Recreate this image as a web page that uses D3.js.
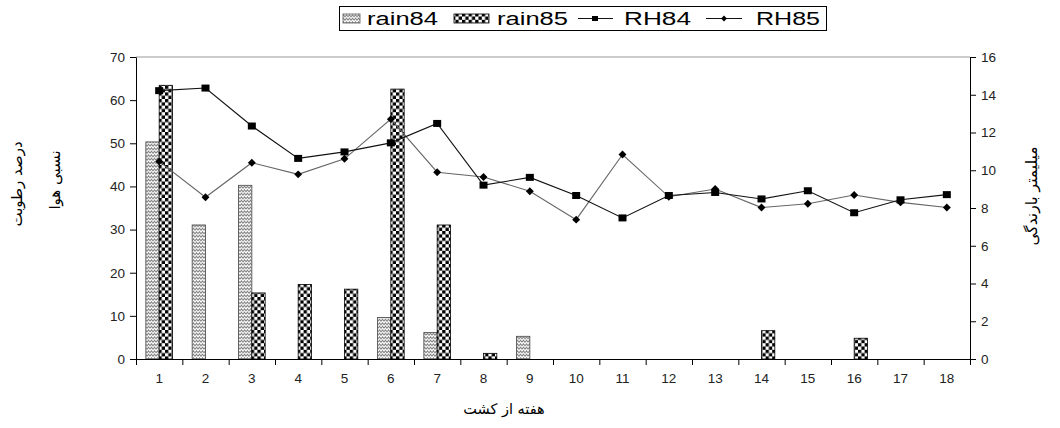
<!DOCTYPE html>
<html>
<head>
<meta charset="utf-8">
<script src="https://cdn.jsdelivr.net/npm/d3@7"></script>
<style>
  body { margin: 0; background: #fff; }
  svg { display: block; }
  .tick text { font-family: "Liberation Sans", Arial, sans-serif; font-size: 13.5px; fill: #222; }
</style>
</head>
<body>
<div id="chart"></div>
<script>
// weeks after planting
const weeks = ["1","2","3","4","5","6","7","8","9","10","11","12","13","14","15","16","17","18"];
// rainfall, mm (right axis)
const rain84 = [11.5, 7.1, 9.2, 0, 0, 2.2, 1.4, 0, 1.2, 0, 0, 0, 0, 0, 0, 0, 0, 0];
const rain85 = [14.5, 0, 3.5, 3.95, 3.7, 14.3, 7.1, 0.3, 0, 0, 0, 0, 0, 1.5, 0, 1.1, 0, 0];
// relative humidity, % (left axis)
const rh84 = [62.2, 62.8, 54.0, 46.5, 48.0, 50.1, 54.6, 40.3, 42.1, 37.9, 32.7, 37.9, 38.6, 37.1, 39.0, 33.9, 36.9, 38.1];
const rh85 = [45.8, 37.5, 45.5, 42.8, 46.4, 55.6, 43.3, 42.2, 38.9, 32.3, 47.4, 37.6, 39.4, 35.1, 36.0, 38.0, 36.3, 35.1];
const leftTicks = [0, 10, 20, 30, 40, 50, 60, 70];
const rightTicks = [0, 2, 4, 6, 8, 10, 12, 14, 16];

const w = 1060, h = 428;
const pLeft = 136, pRight = 970, pTop = 57, pBottom = 359;

const svg = d3.select("#chart").append("svg")
    .attr("width", w)
    .attr("height", h);

const defs = svg.append("defs");
// wavy pattern for rain84
const wave = defs.append("pattern")
    .attr("id", "wave")
    .attr("patternUnits", "userSpaceOnUse")
    .attr("width", 6).attr("height", 3.5);
wave.append("rect").attr("width", 6).attr("height", 3.5).attr("fill", "#fff");
wave.append("path")
    .attr("d", "M0,2.8 L1.5,0.8 L3,2.8 L4.5,0.8 L6,2.8")
    .attr("fill", "none").attr("stroke", "#6e6e6e").attr("stroke-width", 0.9);
// checker pattern for rain85
const chk = defs.append("pattern")
    .attr("id", "checker")
    .attr("patternUnits", "userSpaceOnUse")
    .attr("width", 6.6).attr("height", 6.6);
chk.append("rect").attr("width", 6.6).attr("height", 6.6).attr("fill", "#fff");
chk.append("rect").attr("width", 3.3).attr("height", 3.3).attr("fill", "#000");
chk.append("rect").attr("x", 3.3).attr("y", 3.3).attr("width", 3.3).attr("height", 3.3).attr("fill", "#000");

const x = d3.scaleBand().domain(weeks).range([pLeft, pRight]);
const groupW = x.bandwidth() * 0.575;
const xSub = d3.scaleBand().domain(["rain84", "rain85"]).range([0, groupW]);
const xEdge = d3.scaleLinear().domain([0, weeks.length]).range([pLeft, pRight]);

const yL = d3.scaleLinear().domain([0, 70]).range([pBottom, pTop]);
const yR = d3.scaleLinear().domain([0, 16]).range([pBottom, pTop]);

// top frame line
svg.append("line")
    .attr("x1", pLeft).attr("x2", pRight)
    .attr("y1", pTop).attr("y2", pTop)
    .attr("stroke", "#999");

// bars
const bx = (i) => x(weeks[i]) + (x.bandwidth() - groupW) / 2;
const barG = svg.append("g");
rain84.forEach((d, i) => {
    if (d <= 0) return;
    barG.append("rect")
        .attr("x", bx(i) + xSub("rain84"))
        .attr("y", yR(d))
        .attr("width", xSub.bandwidth())
        .attr("height", yR(0) - yR(d))
        .attr("fill", "url(#wave)")
        .attr("stroke", "#555").attr("stroke-width", 0.9);
});
rain85.forEach((d, i) => {
    if (d <= 0) return;
    barG.append("rect")
        .attr("x", bx(i) + xSub("rain85"))
        .attr("y", yR(d))
        .attr("width", xSub.bandwidth())
        .attr("height", yR(0) - yR(d))
        .attr("fill", "url(#checker)")
        .attr("stroke", "#000").attr("stroke-width", 0.8);
});

// lines
const cx = (i) => x(weeks[i]) + x.bandwidth() / 2;
const line = d3.line().x((d, i) => cx(i)).y(d => yL(d));

svg.append("path")
    .datum(rh85)
    .attr("d", line)
    .attr("fill", "none")
    .attr("stroke", "#666")
    .attr("stroke-width", 1.1);
svg.append("path")
    .datum(rh84)
    .attr("d", line)
    .attr("fill", "none")
    .attr("stroke", "#111")
    .attr("stroke-width", 1.1);

svg.append("g").selectAll("rect")
    .data(rh84)
    .enter()
    .append("rect")
    .attr("x", (d, i) => cx(i) - 4)
    .attr("y", d => yL(d) - 3.5)
    .attr("width", 8)
    .attr("height", 7)
    .attr("fill", "#000");

svg.append("g").selectAll("path")
    .data(rh85)
    .enter()
    .append("path")
    .attr("d", d3.symbol(d3.symbolDiamond2, 40))
    .attr("transform", (d, i) => `translate(${cx(i)},${yL(d)})`)
    .attr("fill", "#000");

// axes
const yAxisL = svg.append("g")
    .attr("transform", `translate(${pLeft},0)`)
    .call(d3.axisLeft(yL).tickValues(leftTicks).tickSize(6).tickSizeOuter(0).tickPadding(5));
const yAxisR = svg.append("g")
    .attr("transform", `translate(${pRight},0)`)
    .call(d3.axisRight(yR).tickValues(rightTicks).tickSize(6).tickSizeOuter(0).tickPadding(5));

const xTicks = svg.append("g")
    .attr("transform", `translate(0,${pBottom})`)
    .call(d3.axisBottom(xEdge).tickValues(d3.range(0, weeks.length + 1)).tickFormat("").tickSize(6).tickSizeOuter(0));
const xLabels = svg.append("g")
    .attr("transform", `translate(0,${pBottom})`)
    .call(d3.axisBottom(x).tickSize(0).tickPadding(14));
xLabels.select(".domain").remove();

svg.selectAll(".domain").attr("stroke", "#000");
yAxisR.selectAll(".tick text").attr("fill", "#333");

// axis titles
const arFont = "'DejaVu Sans', 'Noto Sans', sans-serif";
svg.append("text")
    .attr("transform", "translate(17,184) rotate(-90)")
    .attr("text-anchor", "middle")
    .attr("dominant-baseline", "middle")
    .style("font-family", arFont).style("font-size", "15px")
    .text("درصد رطوبت");
svg.append("text")
    .attr("transform", "translate(55,180) rotate(-90)")
    .attr("text-anchor", "middle")
    .attr("dominant-baseline", "middle")
    .style("font-family", arFont).style("font-size", "15px")
    .text("نسبی هوا");
svg.append("text")
    .attr("transform", "translate(1032,196) rotate(-90)")
    .attr("text-anchor", "middle")
    .attr("dominant-baseline", "middle")
    .style("font-family", arFont).style("font-size", "15.5px")
    .text("میلیمتر بارندگی");
svg.append("text")
    .attr("x", 504).attr("y", 414)
    .attr("text-anchor", "middle")
    .style("font-family", arFont).style("font-size", "14.5px")
    .text("هفته از کشت");

// legend
const lg = svg.append("g");
lg.append("rect")
    .attr("x", 339.5).attr("y", 6.5)
    .attr("width", 487).attr("height", 24)
    .attr("fill", "#fff").attr("stroke", "#000");
const lgFont = "'Liberation Sans', Arial, sans-serif";
lg.append("rect").attr("x", 343).attr("y", 14).attr("width", 17).attr("height", 9)
    .attr("fill", "url(#wave)").attr("stroke", "#555").attr("stroke-width", 0.8);
lg.append("text").attr("x", 367).attr("y", 25).attr("textLength", 71).text("rain84");
lg.append("rect").attr("x", 454).attr("y", 14).attr("width", 35).attr("height", 9)
    .attr("fill", "url(#checker)").attr("stroke", "#000").attr("stroke-width", 0.8);
lg.append("text").attr("x", 497).attr("y", 25).attr("textLength", 71).text("rain85");
lg.append("line").attr("x1", 578).attr("x2", 613).attr("y1", 18.5).attr("y2", 18.5).attr("stroke", "#111");
lg.append("rect").attr("x", 592).attr("y", 16).attr("width", 6).attr("height", 5).attr("fill", "#000");
lg.append("text").attr("x", 624).attr("y", 25).attr("textLength", 67).text("RH84");
lg.append("line").attr("x1", 706).attr("x2", 742).attr("y1", 18.5).attr("y2", 18.5).attr("stroke", "#111");
lg.append("path").attr("d", d3.symbol(d3.symbolDiamond2, 22))
    .attr("transform", "translate(724,18.5)").attr("fill", "#000");
lg.append("text").attr("x", 756).attr("y", 25).attr("textLength", 64).text("RH85");
lg.selectAll("text")
    .attr("lengthAdjust", "spacingAndGlyphs")
    .style("font-family", lgFont).style("font-size", "17.5px").attr("fill", "#000");
</script>
</body>
</html>
